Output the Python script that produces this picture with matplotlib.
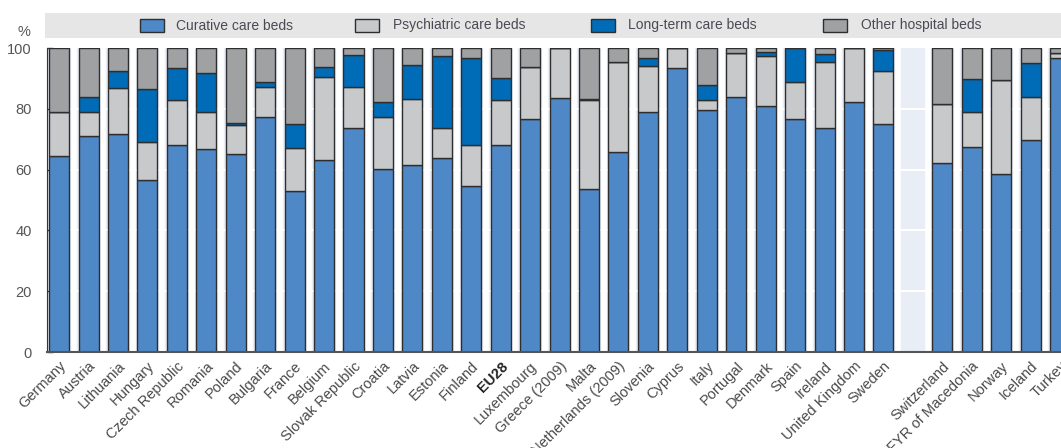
import matplotlib
matplotlib.use("Agg")
import matplotlib.pyplot as plt
from matplotlib.patches import Rectangle
import numpy as np

plt.rcParams['font.family'] = ['Liberation Sans', 'DejaVu Sans']

countries = ["Germany", "Austria", "Lithuania", "Hungary", "Czech Republic", "Romania",
             "Poland", "Bulgaria", "France", "Belgium", "Slovak Republic", "Croatia",
             "Latvia", "Estonia", "Finland", "EU28", "Luxembourg", "Greece (2009)", "Malta",
             "Netherlands (2009)", "Slovenia", "Cyprus", "Italy", "Portugal", "Denmark",
             "Spain", "Ireland", "United Kingdom", "Sweden", "",
             "Switzerland", "FYR of Macedonia", "Norway", "Iceland", "Turkey"]

curative = [64.5, 71.2, 71.8, 56.6, 68.1, 66.8, 65.0, 77.2, 53.0, 63.2, 73.6, 60.2,
            61.5, 63.9, 54.7, 68.1, 76.6, 83.4, 53.5, 65.7, 79.0, 93.5, 79.6, 83.8,
            80.9, 76.5, 73.6, 82.2, 74.9, 0,
            62.1, 67.5, 58.4, 69.9, 96.6]
psychiatric = [14.5, 7.8, 14.9, 12.6, 14.8, 12.1, 9.7, 9.9, 14.0, 27.4, 13.5, 17.0,
               21.7, 9.7, 13.4, 14.7, 17.2, 16.6, 29.3, 29.8, 15.2, 6.5, 3.3, 14.7,
               16.5, 12.4, 21.9, 17.8, 17.5, 0,
               19.4, 11.3, 31.1, 13.9, 1.8]
long_term = [0.0, 5.0, 5.7, 17.2, 10.6, 13.0, 0.6, 1.8, 8.0, 3.2, 10.6, 5.2,
             11.2, 23.8, 28.5, 7.2, 0.0, 0.0, 0.5, 0.0, 2.4, 0.0, 4.9, 0.0,
             1.4, 11.1, 2.5, 0.0, 7.0, 0,
             0.0, 11.0, 0.0, 11.2, 0.0]
other = [21.0, 16.0, 7.6, 13.6, 6.5, 8.1, 24.7, 11.1, 25.0, 6.2, 2.3, 17.6,
         5.6, 2.6, 3.4, 10.0, 6.2, 0.0, 16.7, 4.5, 3.4, 0.0, 12.2, 1.5,
         1.2, 0.0, 2.0, 0.0, 0.6, 0,
         18.5, 10.2, 10.5, 5.0, 1.6]

series_names = ["Curative care beds", "Psychiatric care beds", "Long-term care beds", "Other hospital beds"]
colors = ["#4f88c6", "#c8c9cb", "#006bb6", "#a0a1a3"]
yticks = [0, 20, 40, 60, 80, 100]

W, H = 1061, 448
fig = plt.figure(figsize=(W / 100, H / 100), dpi=100)
ax = fig.add_axes([47 / W, (H - 352) / H, 1 - 47 / W, 304 / H])
ax.set_facecolor("#e9edf6")

xr = np.array([i for i, c in enumerate(countries) if c != ""])

for yv in yticks[1:-1]:
    ax.axhline(yv, color="white", lw=1.5, zorder=0)
for i in range(len(countries) - 1):
    ax.axvline(i + 0.5, color="white", lw=4, zorder=0.5)

bottom = np.zeros(len(countries))
for vals, col, name in zip([curative, psychiatric, long_term, other], colors, series_names):
    v = np.array(vals, dtype=float)
    ax.bar(xr, v[xr], bottom=bottom[xr], width=0.68, color=col, edgecolor="#2e2e2e",
           linewidth=1.0, zorder=2, label=name)
    bottom += v

ax.set_xlim(-0.41, len(countries) - 1 + 0.03)
ax.set_ylim(0, 100)
ax.set_yticks(yticks)
ax.tick_params(axis="y", direction="in", length=4, width=1, colors="#333333",
               labelcolor="#555555", labelsize=10.5, pad=11)
ax.set_xticks(xr)
ax.set_xticklabels([countries[i] for i in xr], rotation=45, ha="right", va="top",
                   rotation_mode="anchor", fontsize=10.5, color="#4a4a4a")
ax.tick_params(axis="x", length=0, pad=5)
for lbl in ax.get_xticklabels():
    if lbl.get_text() == "EU28":
        lbl.set_fontweight("bold")
        lbl.set_color("#222222")
for s in ["top", "right"]:
    ax.spines[s].set_visible(False)
ax.spines["left"].set_color("#333333")
ax.spines["bottom"].set_color("#555555")
ax.spines["bottom"].set_linewidth(1.5)

fig.text(24 / W, (H - 32) / H, "%", fontsize=10.5, color="#555555", ha="center", va="center")

# legend band, drawn manually
fig.patches.append(Rectangle((45 / W, (H - 38) / H), 1 - 45 / W, 25 / H,
                             transform=fig.transFigure, facecolor="#e6e6e6",
                             edgecolor="none", zorder=0))
handle_x = [140, 355, 591, 823]
text_x = [176, 393, 628, 861]
for hx, tx, col, name in zip(handle_x, text_x, colors, series_names):
    fig.patches.append(Rectangle((hx / W, (H - 32) / H), 24 / W, 13 / H,
                                 transform=fig.transFigure, facecolor=col,
                                 edgecolor="#2e2e2e", linewidth=1.0, zorder=1))
    fig.text(tx / W, (H - 25.5) / H, name, fontsize=10, color="#4a4a55",
             ha="left", va="center")

fig.savefig("out.png", dpi=100)
